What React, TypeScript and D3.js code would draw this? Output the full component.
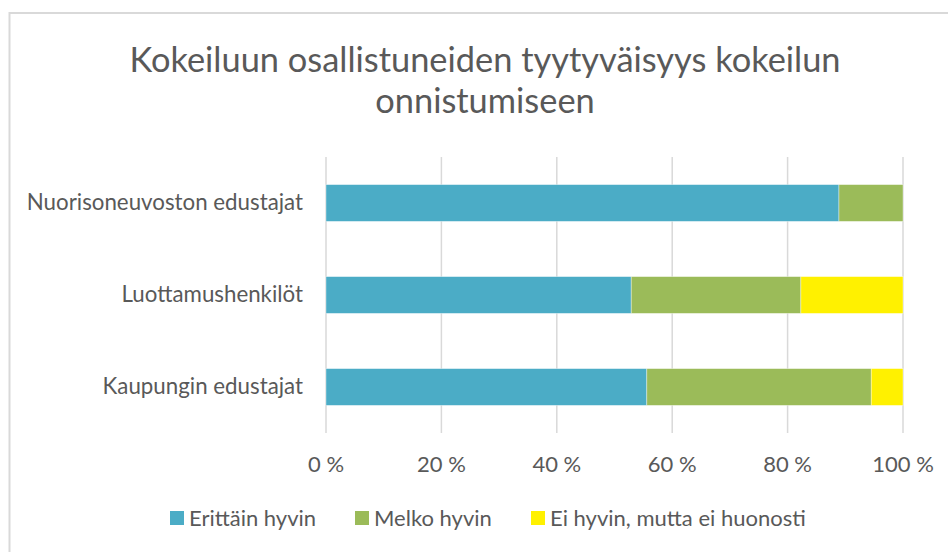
import React from "react";
import * as d3 from "d3";

const categories = ["Nuorisoneuvoston edustajat", "Luottamushenkilöt", "Kaupungin edustajat"];
const seriesNames = ["Erittäin hyvin", "Melko hyvin", "Ei hyvin, mutta ei huonosti"];
const erittainHyvin = [88.9, 52.9, 55.6];
const melkoHyvin = [11.1, 29.4, 38.9];
const eiHyvin = [0, 17.7, 5.5];
const tickValues = [0, 20, 40, 60, 80, 100];
const titleLines = ["Kokeiluun osallistuneiden tyytyväisyys kokeilun", "onnistumiseen"];

const colors = ["#4BACC6", "#9BBB59", "#FFF100"];
const FONT = "Lato, 'Open Sans', sans-serif";
const TEXT = "#595959";

export default function App() {
  const W = 948, H = 552;
  const x = d3.scaleLinear().domain([0, 100]).range([326, 903]);
  const y = d3.scaleBand().domain(categories).range([157, 433]).paddingInner(0.6).paddingOuter(0.3);
  const rows = categories.map((c, i) => ({ cat: c, s0: erittainHyvin[i], s1: melkoHyvin[i], s2: eiHyvin[i] }));
  const stack = d3.stack<any>().keys(["s0", "s1", "s2"])(rows);
  const legendX = [170, 355, 531];

  return (
    <svg width={W} height={H} style={{ position: "absolute", left: 0, top: 0 }}>
      <rect x={0} y={0} width={W} height={H} fill="#fff" />
      <rect x={9.5} y={13} width={W + 20} height={H + 20} fill="#fff" stroke="#d9d9d9" strokeWidth={2} />
      {titleLines.map((t, i) => (
        <text key={i} x={485} y={72 + i * 41} textAnchor="middle" fontFamily={FONT} fontSize={34.4} fill={TEXT}>
          {t}
        </text>
      ))}
      {tickValues.map((v) => (
        <g key={v}>
          <line x1={x(v)} x2={x(v)} y1={157} y2={433} stroke="#d9d9d9" strokeWidth={1.5} />
          <text x={x(v)} y={472} textAnchor="middle" fontFamily={FONT} fontSize={22} fill={TEXT}>
            {v} %
          </text>
        </g>
      ))}
      {stack.map((layer, si) => (
        <g key={si} fill={colors[si]}>
          {layer.map((d, i) =>
            d[1] - d[0] > 0 ? (
              <rect key={i} x={x(d[0])} y={y(categories[i])!} width={x(d[1]) - x(d[0])} height={y.bandwidth()} stroke="#ffffff" strokeOpacity={0.5} strokeWidth={0.75} />
            ) : null
          )}
        </g>
      ))}
      {categories.map((c) => (
        <text key={c} x={303} y={y(c)! + y.bandwidth() / 2 + 6.5} textAnchor="end" fontFamily={FONT} fontSize={22.3} fill={TEXT}>
          {c}
        </text>
      ))}
      {seriesNames.map((s, i) => (
        <g key={s}>
          <rect x={legendX[i]} y={511} width={14} height={14} fill={colors[i]} />
          <text x={legendX[i] + 19} y={526} fontFamily={FONT} fontSize={22} fill={TEXT}>
            {s}
          </text>
        </g>
      ))}
    </svg>
  );
}
